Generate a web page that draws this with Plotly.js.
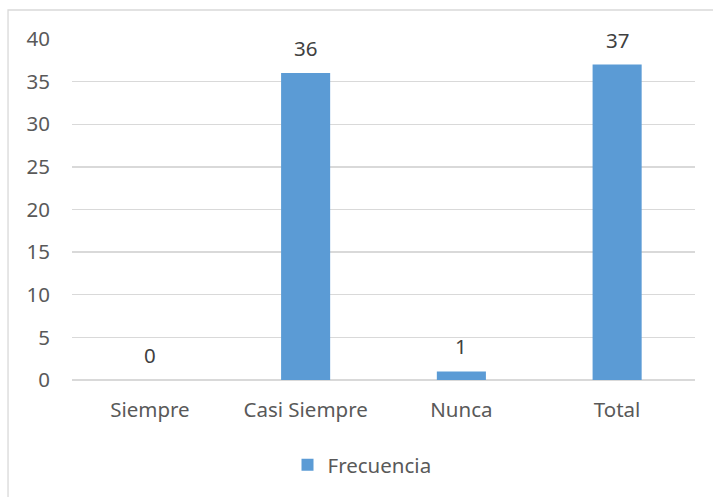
<!DOCTYPE html>
<html>
<head>
<meta charset="utf-8">
<script src="https://cdn.plot.ly/plotly-3.0.1.min.js"></script>
<style>html,body{margin:0;padding:0;background:#fff;}#chart{width:713px;height:497px;}</style>
</head>
<body>
<div id="chart"></div>
<script>
var categories = ["Siempre", "Casi Siempre", "Nunca", "Total"];
var frecuencia = [0, 36, 1, 37];
var seriesName = "Frecuencia";
var yTicks = [0, 5, 10, 15, 20, 25, 30, 35, 40];

var FONT = "Noto Sans";
var FS = 20.5;
var trace = {
  type: "bar",
  x: categories,
  y: frecuencia,
  name: seriesName,
  marker: {color: "#5B9BD5", line: {width: 0}},
  width: 0.315,
  hoverinfo: "x+y",
  showlegend: true
};

var annotations = categories.map(function (c, i) {
  return {
    x: c, y: frecuencia[i], xref: "x", yref: "y",
    text: String(frecuencia[i]), showarrow: false,
    yanchor: "middle", yshift: 25,
    font: {family: FONT, size: FS, color: "#404040"}
  };
});

var layout = {
  width: 713, height: 497,
  margin: {l: 72, r: 18, t: 39, b: 117},
  paper_bgcolor: "#ffffff", plot_bgcolor: "#ffffff",
  font: {family: FONT, size: FS, color: "#595959"},
  bargap: 0.685,
  showlegend: true,
  legend: {
    orientation: "h", x: 0.4655, xanchor: "center", y: -0.249, yanchor: "middle",
    font: {family: FONT, size: FS, color: "#595959"}
  },
  xaxis: {
    type: "category",
    showgrid: false, showline: false, ticks: "",
    ticklabelstandoff: 15,
    tickfont: {family: FONT, size: FS, color: "#595959"}
  },
  yaxis: {
    range: [0, 40], tickvals: yTicks, ticktext: yTicks.map(String),
    showgrid: true, gridcolor: "#D9D9D9", gridwidth: 1.3,
    zeroline: true, zerolinecolor: "#D9D9D9", zerolinewidth: 1.3,
    showline: false, ticks: "",
    ticklabelstandoff: 21,
    tickfont: {family: FONT, size: FS, color: "#595959"}
  },
  annotations: annotations,
  shapes: [{
    type: "rect", xref: "paper", yref: "paper",
    x0: -0.1027, x1: 1.03, y0: -0.35, y1: 1.085,
    line: {color: "#D9D9D9", width: 1.3}, fillcolor: "rgba(0,0,0,0)", layer: "below"
  }]
};

Plotly.newPlot("chart", [trace], layout, {displayModeBar: false, staticPlot: true});
</script>
</body>
</html>
